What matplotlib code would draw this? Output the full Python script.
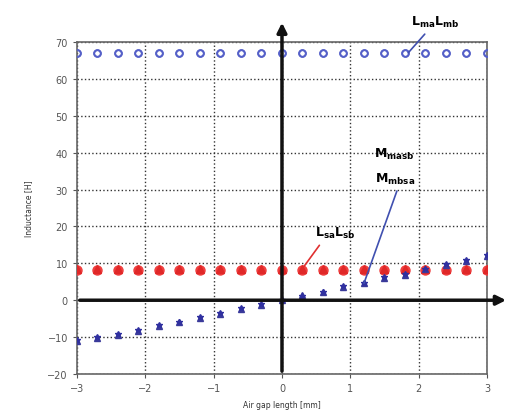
import numpy as np
import matplotlib.pyplot as plt

# air gap positions [mm]
gap = [-3.0, -2.7, -2.4, -2.1, -1.8, -1.5, -1.2, -0.9, -0.6, -0.3, 0.0,
       0.3, 0.6, 0.9, 1.2, 1.5, 1.8, 2.1, 2.4, 2.7, 3.0]

# self inductances of main windings
L_ma = [67.0] * 21
L_mb = [67.0] * 21
# self inductances of auxiliary windings
L_sa = [8.3] * 21
L_sb = [8.5] * 21
# mutual inductances
M_masb = [-11.1, -10.3, -9.4, -8.3, -7.0, -6.0, -4.7, -3.7, -2.3, -1.3, 0.0,
          1.4, 2.1, 3.7, 4.6, 6.1, 6.9, 8.4, 9.6, 10.7, 12.1]
M_mbsa = [-10.8, -10.0, -9.2, -8.0, -6.8, -5.8, -4.5, -3.5, -2.1, -1.1, 0.0,
          1.2, 2.3, 3.9, 4.8, 6.3, 7.1, 8.6, 9.8, 10.9, 12.3]

fig = plt.figure(figsize=(5.32, 4.14), dpi=100)
ax = fig.add_axes([0.1447, 0.0942, 0.7707, 0.8019])

ax.plot(gap, L_ma, 'o', ms=4.8, mfc='none', mec='#5560c8', mew=1.3, zorder=3)
ax.plot(gap, L_mb, 'o', ms=4.8, mfc='none', mec='#5560c8', mew=1.3, zorder=3)
ax.plot(gap, L_sa, 'o', ms=6.5, mfc='#f04040', mec='#f04040', zorder=3)
ax.plot(gap, L_sb, '^', ms=5.5, mfc='#e02828', mec='#e02828', zorder=3)
ax.plot(gap, M_masb, '^', ms=4, mfc='#3a3a9a', mec='#3a3a9a', zorder=3)
ax.plot(gap, M_mbsa, '*', ms=4, mfc='#3030a0', mec='#3030a0', zorder=3)

ax.set_xlim(-3, 3)
ax.set_ylim(-20, 70)
ax.set_xticks(np.arange(-3, 4, 1))
ax.set_yticks(np.arange(-20, 80, 10))
ax.grid(True, linestyle=':', color='#333333', linewidth=1.0)
ax.tick_params(labelsize=7, colors='#555555', length=3)
for s in ax.spines.values():
    s.set_color('#666666')
    s.set_linewidth(1.2)

ax.set_xlabel('Air gap length [mm]', fontsize=5.5, color='#333333', labelpad=5)
ax.set_ylabel('Inductance [H]', fontsize=5.5, color='#333333', labelpad=10)

# bold coordinate arrows
ax.annotate('', xy=(0, 76), xytext=(0, -20), annotation_clip=False,
            arrowprops=dict(arrowstyle='-|>', color='#111111', lw=2.5, mutation_scale=14))
ax.annotate('', xy=(3.32, 0), xytext=(-3, 0), annotation_clip=False,
            arrowprops=dict(arrowstyle='-|>', color='#111111', lw=2.5, mutation_scale=14))

# labels with pointer lines
ax.annotate(r'$\mathbf{L_{ma}L_{mb}}$', xy=(1.82, 66.5), xytext=(2.25, 75.5),
            fontsize=9, ha='center', va='center', annotation_clip=False,
            arrowprops=dict(arrowstyle='-', color='#4050b0', lw=1.2))
ax.annotate(r'$\mathbf{M_{masb}}$' + '\n' + r'$\mathbf{M_{mbsa}}$', xy=(1.2, 4.6), xytext=(1.65, 36.5),
            fontsize=9, ha='center', va='center', linespacing=1.9,
            arrowprops=dict(arrowstyle='-', color='#4050b0', lw=1.2, shrinkB=0, relpos=(0.6, 0)))
ax.annotate(r'$\mathbf{L_{sa}L_{sb}}$', xy=(0.3, 8.6), xytext=(0.78, 18.3),
            fontsize=9, ha='center', va='center',
            arrowprops=dict(arrowstyle='-', color='#e03030', lw=1.2, relpos=(0.2, 0)))

fig.savefig('out.png', dpi=100)
